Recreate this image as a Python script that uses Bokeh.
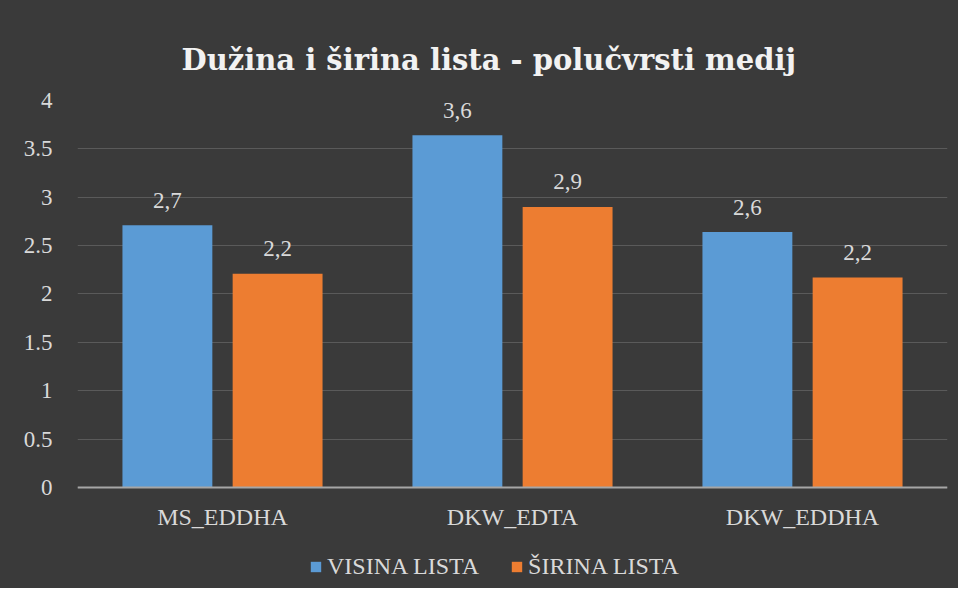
from bokeh.plotting import figure
from bokeh.models import ColumnDataSource, Legend, LegendItem, Range1d, FixedTicker, Span
from bokeh.transform import dodge
from bokeh.core.properties import value
from bokeh.embed import file_html
from bokeh.resources import INLINE

# ---- data ----
categories = ["MS_EDDHA", "DKW_EDTA", "DKW_EDDHA"]
visina = [2.71, 3.64, 2.64]
sirina = [2.21, 2.90, 2.17]
series_names = ["VISINA LISTA", "ŠIRINA LISTA"]
series_colors = ["#5b9bd5", "#ed7d31"]
y_ticks = [0, 0.5, 1, 1.5, 2, 2.5, 3, 3.5, 4]
title_text = "Dužina i širina lista - polučvrsti medij"

def fmt(v):
    return f"{v:.1f}".replace(".", ",")

src = ColumnDataSource(dict(
    cat=categories,
    zero=[0] * len(categories),
    visina=visina,
    sirina=sirina,
    lab_v=[fmt(v) for v in visina],
    lab_s=[fmt(v) for v in sirina],
))

FONT = "Liberation Serif"
TXT = "#d9d9d9"
BG = "#3a3a3a"

# frame extends below zero so the category labels and legend sit inside it
p = figure(x_range=categories, y_range=Range1d(-1.044, 4), width=958, height=588,
           output_backend="svg", toolbar_location=None,
           min_border_left=77, min_border_right=11, min_border_top=100, min_border_bottom=0)

p.background_fill_color = BG
p.border_fill_color = None
p.styles = {"background-color": BG}
p.outline_line_color = None

p.title.text = title_text
p.title.align = "left"
p.title.offset = 104
p.title.text_font = "DejaVu Serif"
p.title.text_font_size = "29px"
p.title.text_font_style = "bold"
p.title.text_color = "#f2f2f2"
p.title.standoff = 48

rv = p.vbar(x=dodge("cat", -0.19, range=p.x_range), top="visina", width=0.31, bottom=0,
            source=src, fill_color=series_colors[0], line_color=None)
rs = p.vbar(x=dodge("cat", 0.19, range=p.x_range), top="sirina", width=0.31, bottom=0,
            source=src, fill_color=series_colors[1], line_color=None)

for col, lab, off in (("visina", "lab_v", -0.19), ("sirina", "lab_s", 0.19)):
    p.text(x=dodge("cat", off, range=p.x_range), y=col, text=lab, source=src,
           text_align="center", text_baseline="alphabetic", y_offset=-25,
           text_font=value(FONT), text_font_size="23px", text_color=TXT)

# category labels under the baseline
p.text(x="cat", y="zero", text="cat", source=src, text_align="center",
       text_baseline="middle", y_offset=30,
       text_font=value(FONT), text_font_size="24px", text_color=TXT)

# baseline (category axis line)
p.add_layout(Span(location=0, dimension="width", line_color="#a6a6a6", line_width=2))

# axes
p.xaxis.visible = False
p.yaxis.ticker = FixedTicker(ticks=y_ticks)
p.yaxis.major_label_overrides = {t: f"{t:g}" for t in y_ticks}
p.yaxis.axis_line_color = None
p.yaxis.major_tick_line_color = None
p.yaxis.minor_tick_line_color = None
p.yaxis.major_label_standoff = 19
p.yaxis.major_label_text_font = FONT
p.yaxis.major_label_text_font_size = "23px"
p.yaxis.major_label_text_color = TXT

p.xgrid.grid_line_color = None
p.ygrid.grid_line_color = "#5a5a5a"
p.ygrid.grid_line_width = 1

legend = Legend(items=[LegendItem(label=series_names[0], renderers=[rv]),
                       LegendItem(label=series_names[1], renderers=[rs])],
                orientation="horizontal", location=(232, 8))
legend.background_fill_alpha = 0
legend.border_line_alpha = 0
legend.glyph_width = 13
legend.glyph_height = 13
legend.label_standoff = 5
legend.spacing = 31
legend.label_text_font = FONT
legend.label_text_font_size = "24px"
legend.label_text_color = TXT
legend.margin = 0
legend.padding = 0
p.add_layout(legend, "center")

open("out.html", "w").write(file_html(p, INLINE))
